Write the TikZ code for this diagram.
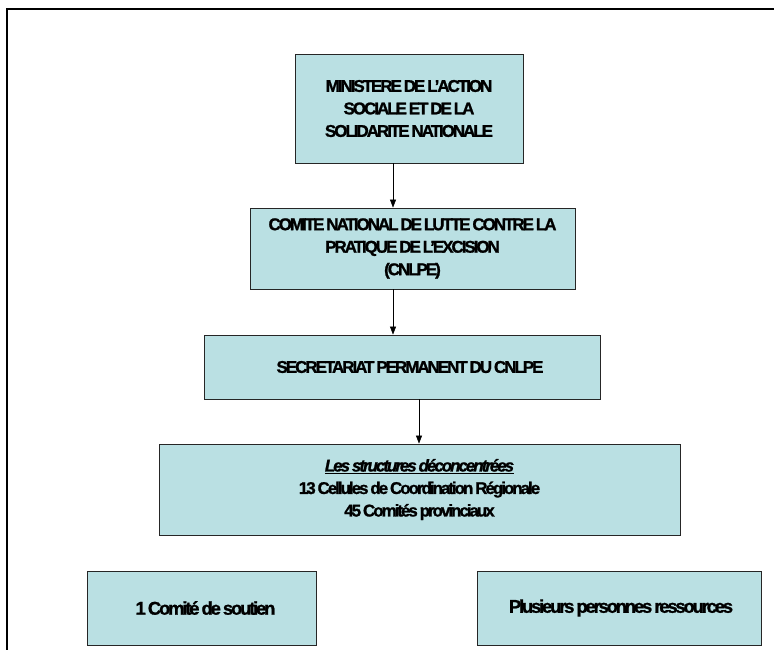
\documentclass[tikz,border=0pt]{standalone}
\usepackage{fontspec}
\setmainfont{Liberation Sans}[LetterSpace=-12,WordSpace=0.7,
    BoldFeatures={FakeBold=1.2},BoldItalicFeatures={FakeBold=1.2}]
\usepackage{tikz}
\usetikzlibrary{arrows.meta,positioning,calc}

\definecolor{cnlpeblue}{RGB}{186,224,227}

\begin{document}
\begin{tikzpicture}[x=1pt,y=-1pt,
    box/.style={draw=black!85,line width=0.8pt,fill=cnlpeblue,align=center,inner sep=0pt,
        font=\fontsize{17}{22.5}\selectfont\bfseries},
    bigbox/.style={box,minimum height=74,font=\fontsize{18.5}{22.5}\selectfont\bfseries},
    arr/.style={-{Triangle[length=8pt,width=6pt]},line width=0.6pt}]

    \useasboundingbox (0,0) rectangle (774,650);

    % cadre
    \draw[line width=2pt] (7,650) -- (7,9) -- (774,9);

    \node[box,minimum width=228,minimum height=109] (ministere) at (409,108.5)
        {MINISTERE DE L'ACTION\\SOCIALE ET DE LA\\SOLIDARITE NATIONALE};
    \node[box,minimum width=325,minimum height=81] (comite) at (412.5,248.5)
        {COMITE NATIONAL DE LUTTE CONTRE LA\\PRATIQUE DE L'EXCISION\\(CNLPE)};
    \node[box,minimum width=396,minimum height=64] (secretariat) at (402,367)
        {\hspace*{16pt}SECRETARIAT PERMANENT DU CNLPE};
    \node[box,minimum width=521,minimum height=91] (structures) at (419.5,489.5)
        {\textit{\underline{Les structures déconcentrées}}\\13 Cellules de Coordination Régionale\\45 Comités provinciaux};

    \node[bigbox,minimum width=229] (soutien) at (201.5,608) {\hspace*{8pt}1 Comité de soutien};
    \node[bigbox,minimum width=284] (personnes) at (619,608) {\hspace*{4pt}Plusieurs personnes ressources};

    % fleches
    \coordinate (a1) at (393,0);
    \coordinate (a3) at (419,0);
    \draw[arr] (ministere.south -| a1) -- (comite.north -| a1);
    \draw[arr] (comite.south -| a1) -- (secretariat.north -| a1);
    \draw[arr] (secretariat.south -| a3) -- (structures.north -| a3);

\end{tikzpicture}
\end{document}
